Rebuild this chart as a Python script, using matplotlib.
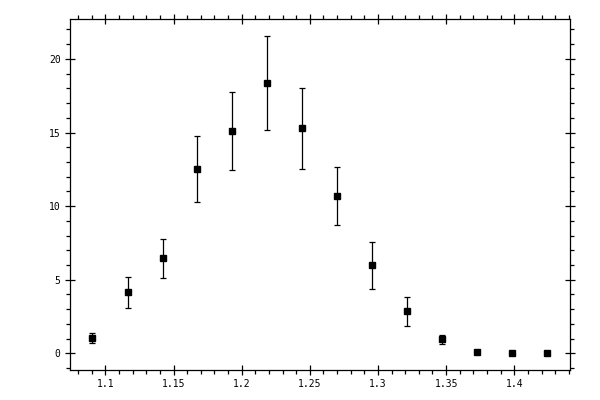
import matplotlib
matplotlib.use("Agg")
import matplotlib.pyplot as plt
from matplotlib.ticker import MultipleLocator

# data
x = [1.0905, 1.1162, 1.1419, 1.1675, 1.1932, 1.2189, 1.2445,
     1.2702, 1.2959, 1.3216, 1.3472, 1.3729, 1.3986, 1.4242]
y = [1.02, 4.14, 6.45, 12.5, 15.08, 18.34, 15.29,
     10.67, 5.98, 2.85, 0.95, 0.07, 0.0, 0.0]
yerr = [0.34, 1.08, 1.33, 2.25, 2.65, 3.2, 2.75,
        1.97, 1.6, 0.99, 0.3, 0.05, 0.0, 0.0]

plt.rcParams["font.family"] = ["DejaVu Sans Mono"]

fig = plt.figure(figsize=(6, 4), dpi=100)
ax = fig.add_axes([0.116, 0.075, 0.834, 0.8775])

ax.errorbar(x, y, yerr=yerr, fmt="s", color="black", ms=4.6,
            elinewidth=0.9, capsize=2.5, capthick=0.9)

ax.set_xlim(1.0737, 1.4409)
ax.set_ylim(-1.13, 22.71)
ax.xaxis.set_minor_locator(MultipleLocator(0.01))
ax.yaxis.set_minor_locator(MultipleLocator(1))
ax.set_xticks([1.1, 1.15, 1.2, 1.25, 1.3, 1.35, 1.4])
ax.set_xticklabels(["1.1", "1.15", "1.2", "1.25", "1.3", "1.35", "1.4"])
ax.set_yticks([0, 5, 10, 15, 20])
ax.set_yticklabels(["0", "5", "10", "15", "20"])

ax.tick_params(which="major", direction="inout", length=7, width=0.9,
               top=True, right=True, labelsize=7, pad=3)
ax.tick_params(which="minor", direction="out", length=3, width=0.9,
               top=True, right=True)
for sp in ax.spines.values():
    sp.set_linewidth(0.9)

fig.savefig("out.png", dpi=100)
